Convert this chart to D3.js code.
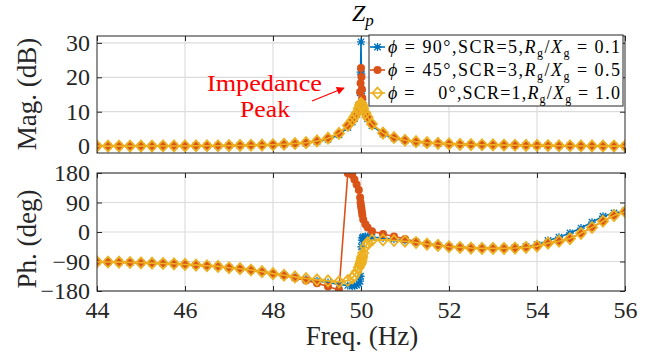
<!DOCTYPE html>
<html><head><meta charset="utf-8">
<script src="https://cdn.jsdelivr.net/npm/d3@7"></script>
<style>body{margin:0;background:#fff}svg{display:block}</style>
</head><body><svg id="c" width="652" height="360"></svg>
<script>
const freq = [44,44.25,44.5,44.75,45,45.25,45.5,45.75,46,46.25,46.5,46.75,47,47.25,47.5,47.75,48,48.25,48.5,48.75,49,49.25,49.5,
  49.7,49.8,49.85,49.9,49.95,49.98,49.99,50,50.01,50.02,50.03,50.05,50.1,50.15,
  50.25,50.5,50.75,51,51.25,51.5,51.75,52,52.25,52.5,52.75,53,53.25,53.5,53.75,54,54.25,54.5,54.75,55,55.25,55.5,55.75,56];

const magBlue = [0,0,0,0,0,0,0.05,0.05,0.05,0.1,0.1,0.1,0.15,0.2,0.25,0.3,0.4,0.5,0.7,0.9,1.3,2.0,3.3,
  5.4,7.0,8.0,9.2,11.0,15.5,21.5,30.3,21.0,16.0,13.5,11.2,9.2,7.9,
  6.0,3.5,2.3,1.6,1.2,0.9,0.75,0.6,0.5,0.45,0.4,0.35,0.3,0.25,0.2,0.2,0.15,0.1,0.1,0.05,0.05,0,0,0];
const magOrange = [0,0,0,0,0,0,0.05,0.05,0.05,0.1,0.1,0.1,0.15,0.2,0.25,0.3,0.4,0.55,0.75,1.0,1.5,2.3,3.7,
  6.0,7.5,8.5,9.7,12.0,15.7,18.3,22.7,20.1,16.5,14.0,12.0,9.7,8.4,
  6.4,3.8,2.5,1.7,1.3,1.0,0.8,0.65,0.5,0.45,0.4,0.35,0.3,0.25,0.2,0.2,0.15,0.1,0.1,0.05,0.05,0,0,0];
const magYellow = [0,0,0,0,0,0,0.05,0.05,0.05,0.1,0.1,0.1,0.15,0.2,0.25,0.3,0.4,0.55,0.75,1.0,1.5,2.3,3.7,
  6.0,7.5,8.5,9.6,11.0,11.9,12.2,12.4,12.2,11.9,11.6,11.0,9.6,8.4,
  6.4,3.8,2.5,1.7,1.3,1.0,0.8,0.65,0.5,0.45,0.4,0.35,0.3,0.25,0.2,0.2,0.15,0.1,0.1,0.05,0.05,0,0,0];

const phBlue = [-91,-91.5,-92,-93,-94,-95,-96,-97,-99,-101,-103,-105,-109,-112,-116,-121,-127,-132,-138,-144,-149,-154,-160,
  -163,-165,-164,-162,-158,-150,-135,-90,-45,-25,-18,-15,-14,-14,
  -16,-18,-22,-26,-31,-36,-40,-44,-46,-48,-49,-49,-49,-47,-44,-39,-26,-16,-3,12,30,48,58,64];
const phOrange = [-91,-91.5,-92,-93,-94,-95,-96,-97,-99,-101,-103,-105,-109,-112,-116,-121,-127,-133,-140,-148,-156,-166,-177,
  179,174,160,145,128,105,90,80,72,62,52,38,24,14,
  2,-6,-14,-21,-30,-36,-41,-45,-47,-49,-50,-50,-50,-49,-47,-43,-34,-28,-20,-4,14,33,50,62];
const phYellow = [-91,-91.5,-92,-93,-94,-95,-96,-97,-99,-101,-103,-105,-109,-112,-116,-121,-127,-132,-137,-142,-146,-149,-152,
  -148,-140,-133,-122,-108,-100,-96,-92,-86,-80,-74,-64,-45,-33,
  -25,-24,-26,-28,-32,-37,-41,-45,-47,-49,-50,-50,-50,-49,-47,-43,-34,-28,-20,-4,14,33,50,62];

const xTicks = [44,46,48,50,52,54,56];
const magTicks = [0,10,20,30];
const phTicks = [-180,-90,0,90,180];
const legendPhi = ["90°","45°","   0°"];
const legendScr = ["5","3","1"];
const legendRatio = ["0.1","0.5","1.0"];

const FONT = "Liberation Serif";
const colors = ["#0072BD","#D95319","#EDB120"];
const svg = d3.select("#c");
const L = 97, R = 625;
const x = d3.scaleLinear().domain([44,56]).range([L,R]);
const yMag = d3.scaleLinear().domain([-2,32]).range([153,36]);
const yPh = d3.scaleLinear().domain([-180,180]).range([291,173]);

function txt(sel){ return sel.style("font-family", FONT); }

function panel(y, ticks, showX, id){
  const [b,t] = y.range();
  svg.append("clipPath").attr("id",id).append("rect").attr("x",L).attr("y",t).attr("width",R-L).attr("height",b-t);
  const g = svg.append("g");
  g.selectAll(".gx").data(xTicks.slice(1,-1)).join("line").attr("x1",d=>x(d)).attr("x2",d=>x(d)).attr("y1",t).attr("y2",b)
    .attr("stroke","#dcdcdc").attr("stroke-width",1.2);
  g.selectAll(".gy").data(ticks).join("line").attr("x1",L).attr("x2",R).attr("y1",d=>y(d)).attr("y2",d=>y(d))
    .attr("stroke","#dcdcdc").attr("stroke-width",1.2);
  const ax = (a)=>a.tickSizeInner(-5).tickSizeOuter(0);
  const la = svg.append("g").attr("transform",`translate(${L},0)`).call(ax(d3.axisLeft(y).tickValues(ticks)).tickPadding(7));
  const ra = svg.append("g").attr("transform",`translate(${R},0)`).call(ax(d3.axisRight(y).tickValues(ticks)).tickFormat(""));
  const ta = svg.append("g").attr("transform",`translate(0,${t})`).call(ax(d3.axisTop(x).tickValues(xTicks)).tickFormat(""));
  const ba = svg.append("g").attr("transform",`translate(0,${b})`).call(ax(d3.axisBottom(x).tickValues(xTicks)).tickPadding(10));
  if(!showX) ba.selectAll("text").remove();
  [la,ra,ta,ba].forEach(a=>{a.attr("font-family",null).attr("font-size",null);
    a.select(".domain").remove(); a.selectAll("line").attr("stroke","#262626");
    a.selectAll("text").style("font-size","24px").attr("fill","#262626").style("font-family",FONT);});
  return {t,b};
}

function drawSeries(y, vals, i, clip){
  const g = svg.append("g").attr("clip-path",`url(#${clip})`);
  const line = d3.line().x((d,j)=>x(freq[j])).y(d=>y(d));
  g.append("path").attr("d",line(vals)).attr("fill","none").attr("stroke",colors[i]).attr("stroke-width",1.6);
  const pts = vals.map((v,j)=>[x(freq[j]),y(v)]);
  drawMarkers(g, pts, i);
}
function drawMarkers(g, pts, i){
  if(i===0){
    g.selectAll(null).data(pts).join("path").attr("transform",d=>`translate(${d[0]},${d[1]})`)
      .attr("d","M-3.2,-3.2L3.2,3.2M-3.2,3.2L3.2,-3.2M0,-4L0,4M-4,0L4,0").attr("stroke",colors[0]).attr("stroke-width",1.3).attr("fill","none");
  } else if(i===1){
    g.selectAll(null).data(pts).join("circle").attr("cx",d=>d[0]).attr("cy",d=>d[1]).attr("r",4).attr("fill",colors[1]);
  } else {
    g.selectAll(null).data(pts).join("path").attr("transform",d=>`translate(${d[0]},${d[1]})`)
      .attr("d","M0,-5.5L5,0L0,5.5L-5,0Z").attr("stroke",colors[2]).attr("stroke-width",1.8).attr("fill","none");
  }
}

panel(yMag, magTicks, false, "c1");
panel(yPh, phTicks, true, "c2");
[magBlue,magOrange,magYellow].forEach((v,i)=>drawSeries(yMag,v,i,"c1"));
[phBlue,phOrange,phYellow].forEach((v,i)=>drawSeries(yPh,v,i,"c2"));

// frames
[yMag.range(),yPh.range()].forEach(([b,t])=>svg.append("rect").attr("x",L).attr("y",t).attr("width",R-L).attr("height",b-t)
  .attr("fill","none").attr("stroke","#262626").attr("stroke-width",1));

// labels
txt(svg.append("text")).attr("transform","translate(36,94) rotate(-90)").attr("text-anchor","middle").style("font-size","27px").attr("fill","#262626").text("Mag. (dB)");
txt(svg.append("text")).attr("transform","translate(36,239) rotate(-90)").attr("text-anchor","middle").style("font-size","27px").attr("fill","#262626").text("Ph. (deg)");
txt(svg.append("text")).attr("x",362).attr("y",345).attr("text-anchor","middle").style("font-size","27px").attr("fill","#262626").text("Freq. (Hz)");
const title = txt(svg.append("text")).attr("x",352).attr("y",21).style("font-size","24px").attr("fill","#000");
title.append("tspan").attr("font-style","italic").text("Z");
title.append("tspan").attr("font-style","italic").style("font-size","17px").attr("dy",5).text("p");

// annotation
txt(svg.append("text")).attr("x",207).attr("y",91).style("font-size","23px").attr("fill","#ff0000")
  .attr("textLength",115).attr("lengthAdjust","spacingAndGlyphs").text("Impedance");
txt(svg.append("text")).attr("x",240).attr("y",117).style("font-size","23px").attr("fill","#ff0000")
  .attr("textLength",50).attr("lengthAdjust","spacingAndGlyphs").text("Peak");
svg.append("defs").append("marker").attr("id","ah").attr("viewBox","0 0 10 10").attr("refX",9).attr("refY",5)
  .attr("markerWidth",9).attr("markerHeight",8).attr("markerUnits","userSpaceOnUse").attr("orient","auto")
  .append("path").attr("d","M0,0L10,5L0,10Z").attr("fill","#ff0000");
svg.append("line").attr("x1",312).attr("y1",101).attr("x2",344).attr("y2",88).attr("stroke","#ff0000").attr("stroke-width",1.3).attr("marker-end","url(#ah)");

// legend
const lg = svg.append("g");
lg.append("rect").attr("x",369).attr("y",35).attr("width",254).attr("height",71).attr("fill","#fff").attr("stroke","#262626").attr("stroke-width",1);
legendPhi.forEach((p,i)=>{
  const yy = 47 + i*23;
  lg.append("line").attr("x1",370).attr("x2",385).attr("y1",yy).attr("y2",yy).attr("stroke",colors[i]).attr("stroke-width",1.6);
  drawMarkers(lg, [[377.5,yy]], i);
  const t = txt(lg.append("text")).attr("x",388).attr("y",yy+6).style("font-size","18px").attr("fill","#000")
    .attr("textLength",232).attr("lengthAdjust","spacing").style("white-space","pre");
  t.append("tspan").attr("font-style","italic").text("ϕ");
  t.append("tspan").text(" = " + p + ",SCR=" + legendScr[i] + ",");
  t.append("tspan").attr("font-style","italic").text("R");
  t.append("tspan").style("font-size","12px").attr("dy",4).text("g");
  t.append("tspan").attr("dy",-4).text("/");
  t.append("tspan").attr("font-style","italic").text("X");
  t.append("tspan").style("font-size","12px").attr("dy",4).text("g");
  t.append("tspan").attr("dy",-4).text(" = " + legendRatio[i]);
});
</script></body></html>
